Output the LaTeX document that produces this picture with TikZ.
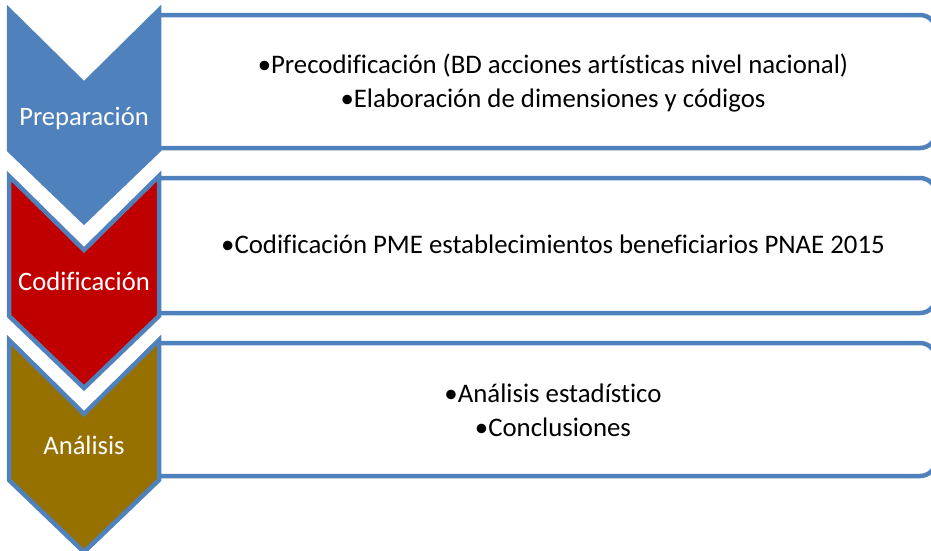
\documentclass[tikz,border=0pt]{standalone}
\usepackage{fontspec}
\setmainfont{Carlito}[Ligatures={NoCommon}]
\usepackage{xcolor}
\definecolor{StageBlue}{HTML}{4F81BD}
\definecolor{StageRed}{HTML}{C00000}
\definecolor{StageOlive}{HTML}{977100}
\usetikzlibrary{positioning}
\tikzset{
  chev/.style={draw=StageBlue, line width=4.5pt, line join=miter, fill=#1},
  panel/.style={draw=StageBlue, line width=4.5pt, rounded corners=16pt},
  lbl/.style={text=white, font=\fontsize{26.6}{30}\selectfont, anchor=base, inner sep=0pt},
  txt/.style={align=center, font=\fontsize{26.8}{35}\selectfont, inner sep=0pt},
}
\begin{document}
\begin{tikzpicture}[x=1pt, y=-1pt]

\useasboundingbox (0,0) rectangle (931,550);

% Stage 1 --- panel, then chevron on top
\draw[panel] (159,15) -- (936,15) -- (936,148) -- (159,148);
\draw[chev=StageBlue] (9,10) -- (84,84) -- (159,10) -- (159,150) -- (84,222) -- (9,150) -- cycle;
\node[lbl] at (84,125) (prep) {Preparación};
\node[txt] at (553,83) (prepTxt) {%
  •Precodificación (BD acciones artísticas nivel nacional)\\[-1pt]
  •Elaboración de dimensiones y códigos};

% Stage 2
\draw[panel] (159,178) -- (936,178) -- (936,313) -- (159,313);
\draw[chev=StageRed] (9,176) -- (84,250) -- (159,176) -- (159,316) -- (84,388) -- (9,316) -- cycle;
\node[lbl] at (84,290) (cod) {Codificación};
\node[txt, anchor=base] at (553,253) (codTxt) {•Codificación PME establecimientos beneficiarios PNAE 2015};

% Stage 3
\draw[panel] (159,343) -- (936,343) -- (936,476) -- (159,476);
\draw[chev=StageOlive] (9,340) -- (84,414) -- (159,340) -- (159,480) -- (84,552) -- (9,480) -- cycle;
\node[lbl] at (84,454) (anal) {Análisis};
\node[txt] at (553,410) (analTxt) {%
  •Análisis estadístico\\[-1pt]
  •Conclusiones};

\end{tikzpicture}
\end{document}
